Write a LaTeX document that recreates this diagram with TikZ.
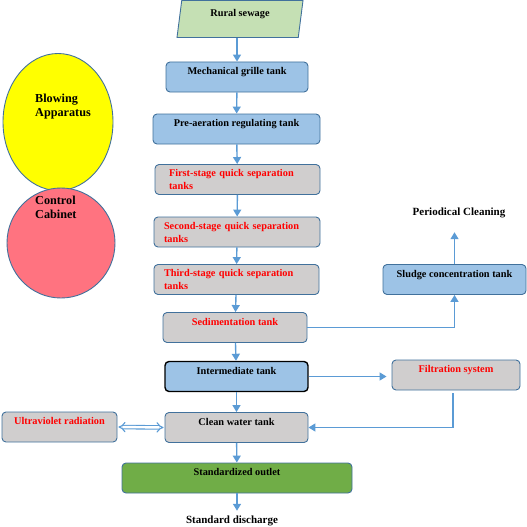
\documentclass[tikz,border=0pt]{standalone}
\usepackage{fontspec}
\setmainfont{Liberation Serif}
\usepackage{xcolor}
\usepackage{tikz}
\usetikzlibrary{positioning, calc, arrows.meta, shapes.geometric}
\definecolor{tankedge}{RGB}{65, 113, 156}
\definecolor{tankblue}{RGB}{157, 195, 230}
\definecolor{tankgray}{RGB}{208, 206, 206}
\definecolor{sewagegreen}{RGB}{197, 224, 180}
\definecolor{outletgreen}{RGB}{112, 173, 71}
\definecolor{flowblue}{RGB}{91, 155, 213}
\definecolor{alertred}{RGB}{255, 0, 0}
\definecolor{blowyellow}{RGB}{255, 255, 0}
\definecolor{cabinetred}{RGB}{255, 115, 128}
\tikzset{
    tankbox/.style={
        draw=tankedge, line width=0.9pt, rounded corners=4pt, inner sep=0pt,
        minimum height=30pt, font=\bfseries\fontsize{10.3}{13}\selectfont
    },
    onelinebox/.style={
        tankbox, text height=7pt, text depth=12pt
    },
    twolinebox/.style={
        tankbox, fill=tankgray, text=alertred, align=left, text width=#1
    },
    flow/.style={
        draw=flowblue, line width=1.4pt, -{Triangle[width=8pt, length=7pt]}
    },
    plainlabel/.style={
        inner sep=0pt, font=\bfseries\fontsize{11}{14}\selectfont
    },
    bigplainlabel/.style={
        inner sep=0pt, align=left, font=\bfseries\fontsize{12.2}{14}\selectfont
    }
}
\begin{document}
\begin{tikzpicture}[
        x=1pt, y=-1pt,
        % Style cho hinh binh hanh
        sewagebox/.style={
            trapezium, trapezium left angle=76, trapezium right angle=104,
            trapezium stretches body, draw=tankedge, line width=0.9pt,
            fill=sewagegreen, minimum width=126pt, minimum height=37pt,
            inner sep=0pt, text height=7pt, text depth=12pt,
            font=\bfseries\fontsize{10.3}{13}\selectfont
        },
        % Style cho hinh elip
        apparatus/.style={
            ellipse, draw=tankedge, line width=0.9pt, inner sep=0pt
        },
        dblarrow/.style={
            draw=flowblue, line width=1.1pt, double=white, double distance=2.4pt,
            {Implies[scale=1.8]}-{Implies[scale=1.8]}
        }
    ]
    \useasboundingbox (0,0) rectangle (527,527);

        % --- 1. THIET BI BEN TRAI ---
        \node[apparatus, fill=blowyellow, minimum width=110pt, minimum height=137pt] (blower) at (58,122) {};
        \node[apparatus, fill=cabinetred, minimum width=108pt, minimum height=110pt] (cabinet) at (61,243) {};
        \node[bigplainlabel, anchor=north west] (blowertext) at (35,93.5) {Blowing\\Apparatus};
        \node[bigplainlabel, anchor=north west] (cabinettext) at (35,195.5) {Control\\Cabinet};

        % --- 2. CAC BE XU LY ---
        \node[sewagebox] (sewage) at (240,19) {Rural sewage};
        \node[onelinebox, fill=tankblue, minimum width=142pt] (mech) at (237,77) {Mechanical grille tank};
        \node[onelinebox, fill=tankblue, minimum width=167pt] (preair) at (236.5,129) {Pre-aeration regulating tank};
        \node[twolinebox=137pt, minimum width=165pt] (stage1) at (237.5,179.5) {First-stage quick separation\\tanks};
        \node[twolinebox=146pt, minimum width=166pt] (stage2) at (237,232) {Second-stage quick separation\\tanks};
        \node[twolinebox=145pt, minimum width=165pt] (stage3) at (236.5,279.5) {Third-stage quick separation\\tanks};
        \node[onelinebox, fill=tankgray, text=alertred, minimum width=144pt] (sed) at (235,327.5) {Sedimentation tank};
        \node[onelinebox, fill=tankblue, draw=black, line width=1.4pt, minimum width=143pt] (inter) at (236.5,376.5) {Intermediate tank};
        \node[onelinebox, fill=tankgray, minimum width=143pt] (clean) at (236.5,427.5) {Clean water tank};
        \node[onelinebox, fill=outletgreen, minimum width=230pt] (outlet) at (237,478) {Standardized outlet};
        \node[plainlabel] (discharge) at (232,521) {Standard discharge};

        % --- 3. CAC BE PHU ---
        \node[onelinebox, fill=tankblue, minimum width=143pt] (sludge) at (454.5,279.5) {Sludge concentration tank};
        \node[plainlabel] (period) at (459,213) {Periodical Cleaning};
        \node[onelinebox, fill=tankgray, text=alertred, minimum width=128pt] (filter) at (456,375) {Filtration system};
        \node[onelinebox, fill=tankgray, text=alertred, minimum width=115pt] (uv) at (59.5,427) {Ultraviolet radiation};

        % --- 4. MUI TEN ---
        \draw[flow] (sewage.south -| mech.north) -- (mech.north);
        \draw[flow] (mech) -- (preair);
        \draw[flow] (preair) -- (stage1);
        \draw[flow] (stage1) -- (stage2);
        \draw[flow] (stage2) -- (stage3);
        \draw[flow] (stage3) -- (sed);
        \draw[flow] (sed) -- (inter);
        \draw[flow] (inter) -- (clean);
        \draw[flow] (clean) -- (outlet);
        \draw[flow, shorten >=5pt] (outlet.south) -- (outlet.south |- discharge.north);
        \draw[flow] (sed.east) -| (sludge.south); % Bun ve be co dac
        \draw[flow, shorten >=14pt] (sludge.north) -- (sludge.north |- period.south);
        \draw[flow, shorten >=5pt] (inter.east) -- (inter.east -| filter.west);
        \draw[flow] ([xshift=-3pt, yshift=-3pt]filter.south) |- (clean.east); % Quay ve be nuoc sach
        \draw[dblarrow, shorten <=1pt, shorten >=1pt] (uv.east) -- (clean.west);

    \end{tikzpicture}
\end{document}
